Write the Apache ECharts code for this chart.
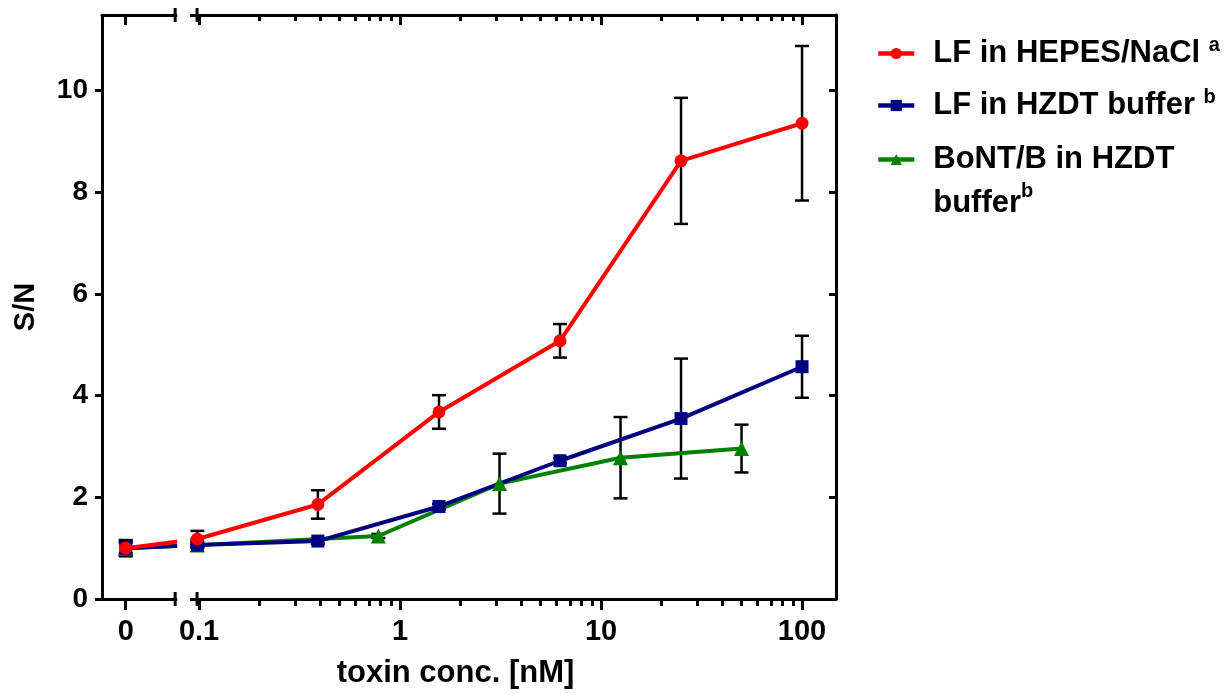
<!DOCTYPE html>
<html>
<head>
<meta charset="utf-8">
<script src="https://cdn.jsdelivr.net/npm/echarts@6/dist/echarts.min.js"></script>
<style>
  html, body { margin: 0; padding: 0; background: #fff; }
  #chart { width: 1232px; height: 694px; }
</style>
</head>
<body>
<div id="chart"></div>
<script>
// toxin concentrations [nM], 0 = blank
var concLF   = [0, 0.098, 0.39, 1.5625, 6.25, 25, 100];
var concBont = [0, 0.098, 0.78, 3.125, 12.5, 50];

// S/N means and error (+/-)
var hepesMean = [1.0, 1.18, 1.86, 3.68, 5.08, 8.62, 9.36];
var hepesErr  = [0.16, 0.16, 0.28, 0.33, 0.33, 1.24, 1.52];
var hzdtMean  = [1.0, 1.06, 1.14, 1.82, 2.72, 3.55, 4.57];
var hzdtErr   = [0.14, 0.05, 0.05, 0.05, 0.05, 1.18, 0.61];
var bontMean  = [1.0, 1.06, 1.24, 2.27, 2.78, 2.96];
var bontErr   = [0.1, 0.04, 0.04, 0.59, 0.8, 0.47];

var seriesNames = ['LF in HEPES/NaCl', 'LF in HZDT buffer', 'BoNT/B in HZDT buffer'];
var xTickLabels = ['0', '0.1', '1', '10', '100'];
var yTicks = [0, 2, 4, 6, 8, 10];

// x axis works in decades above 0.1 nM; the blank sits left of the break
var zeroPos = -0.365;
var breakL = -0.119, breakR = -0.01;
function xPos(c) { return c > 0 ? Math.log10(c) + 1 : zeroPos; }

var majorTicks = [zeroPos, 0, 1, 2, 3];
var minorTicks = [];
for (var n = 0; n < 3; n++) {
  for (var k = 2; k <= 9; k++) minorTicks.push(n + Math.log10(k));
}

function pts(conc, mean) {
  return conc.map(function (c, i) { return [xPos(c), mean[i]]; });
}
function bars(conc, mean, err) {
  return conc.map(function (c, i) { return [xPos(c), mean[i] - err[i], mean[i] + err[i]]; });
}

var FONT = '"Liberation Sans", Arial, sans-serif';
var black = '#000';

function errorSeries(data) {
  return {
    type: 'custom',
    z: 1,
    silent: true,
    data: data,
    encode: { x: 0, y: [1, 2] },
    renderItem: function (params, api) {
      var lo = api.coord([api.value(0), api.value(1)]);
      var hi = api.coord([api.value(0), api.value(2)]);
      var w = 7;
      var st = { stroke: black, lineWidth: 2.5 };
      return {
        type: 'group',
        children: [
          { type: 'line', shape: { x1: lo[0], y1: lo[1], x2: hi[0], y2: hi[1] }, style: st },
          { type: 'line', shape: { x1: lo[0] - w, y1: lo[1], x2: lo[0] + w, y2: lo[1] }, style: st },
          { type: 'line', shape: { x1: hi[0] - w, y1: hi[1], x2: hi[0] + w, y2: hi[1] }, style: st }
        ]
      };
    }
  };
}

function lineSeries(name, data, color, symbol, size) {
  return {
    name: name,
    type: 'line',
    z: 3,
    data: data,
    symbol: symbol,
    symbolSize: size,
    showAllSymbol: true,
    lineStyle: { color: color, width: 4 },
    itemStyle: { color: color }
  };
}

function legendStyle(lh) {
  return {
    color: black, fontFamily: FONT, fontWeight: 'bold', fontSize: 31,
    rich: {
      t: { fontFamily: FONT, fontWeight: 'bold', fontSize: 31, color: black, lineHeight: lh, padding: [0, 0, 0, 14] },
      sup: { fontFamily: FONT, fontWeight: 'bold', fontSize: 20, color: black, verticalAlign: 'top', lineHeight: lh, padding: [0, 0, 12, 0] }
    }
  };
}

var chart = echarts.init(document.getElementById('chart'));

var axisLineStyle = { show: true, onZero: false, lineStyle: { color: black, width: 3 } };
var noLine = { show: false, onZero: false };

var option = {
  animation: false,
  backgroundColor: '#fff',
  grid: { left: 102, right: 396, top: 15, bottom: 93 },
  legend: [
    {
      data: [seriesNames[0], seriesNames[1]],
      orient: 'vertical',
      left: 876,
      top: 35,
      padding: 0,
      itemWidth: 36,
      itemHeight: 14,
      itemGap: 18,
      selectedMode: false,
      lineStyle: { width: 4.5 },
      textStyle: legendStyle(37),
      formatter: function (name) {
        if (name === seriesNames[0]) return '{t|LF in HEPES/NaCl }{sup|a}';
        return '{t|LF in HZDT buffer }{sup|b}';
      }
    },
    {
      data: [seriesNames[2]],
      orient: 'vertical',
      left: 876,
      top: 100,
      padding: 0,
      itemWidth: 36,
      itemHeight: 14,
      selectedMode: false,
      lineStyle: { width: 4.5 },
      textStyle: legendStyle(44),
      formatter: function () { return '{t| }\n{t|BoNT/B in HZDT}\n{t|buffer}{sup|b}'; }
    }
  ],
  xAxis: [
    {
      type: 'value', position: 'bottom', min: -0.483, max: 3.169,
      name: 'toxin conc. [nM]', nameLocation: 'middle', nameGap: 59,
      nameTextStyle: { color: black, fontFamily: FONT, fontWeight: 'bold', fontSize: 31, padding: [0, 27, 0, 0] },
      axisLine: axisLineStyle,
      splitLine: { show: false },
      axisTick: { show: true, customValues: majorTicks, length: 11, lineStyle: { color: black, width: 3 } },
      axisLabel: {
        customValues: majorTicks, margin: 18,
        color: black, fontFamily: FONT, fontWeight: 'bold', fontSize: 29,
        formatter: function (v) {
          var i = majorTicks.findIndex(function (t) { return Math.abs(t - v) < 1e-6; });
          return i >= 0 ? xTickLabels[i] : '';
        }
      }
    },
    {
      type: 'value', position: 'bottom', min: -0.483, max: 3.169,
      axisLine: noLine, splitLine: { show: false }, axisLabel: { show: false },
      axisTick: { show: true, customValues: minorTicks, length: 7, lineStyle: { color: black, width: 3 } }
    },
    {
      type: 'value', position: 'top', min: -0.483, max: 3.169,
      axisLine: axisLineStyle, splitLine: { show: false }, axisLabel: { show: false },
      axisTick: { show: true, inside: true, customValues: majorTicks, length: 10, lineStyle: { color: black, width: 3 } }
    },
    {
      type: 'value', position: 'top', min: -0.483, max: 3.169,
      axisLine: noLine, splitLine: { show: false }, axisLabel: { show: false },
      axisTick: { show: true, inside: true, customValues: minorTicks, length: 6, lineStyle: { color: black, width: 3 } }
    }
  ],
  yAxis: [
    {
      type: 'value', position: 'left', min: 0, max: 11.49,
      name: 'S/N', nameLocation: 'middle', nameGap: 62, nameRotate: 90,
      nameTextStyle: { color: black, fontFamily: FONT, fontWeight: 'bold', fontSize: 29 },
      axisLine: axisLineStyle, splitLine: { show: false },
      axisTick: { show: true, customValues: yTicks, length: 7, lineStyle: { color: black, width: 3 } },
      axisLabel: { customValues: yTicks, margin: 14, color: black, fontFamily: FONT, fontWeight: 'bold', fontSize: 28 }
    },
    {
      type: 'value', position: 'right', min: 0, max: 11.49,
      axisLine: axisLineStyle, splitLine: { show: false }, axisLabel: { show: false },
      axisTick: { show: true, inside: true, customValues: yTicks, length: 7, lineStyle: { color: black, width: 3 } }
    }
  ],
  series: [
    errorSeries(bars(concLF, hepesMean, hepesErr)),
    errorSeries(bars(concLF, hzdtMean, hzdtErr)),
    errorSeries(bars(concBont, bontMean, bontErr)),
    lineSeries(seriesNames[2], pts(concBont, bontMean), '#008000', 'triangle', 15),
    lineSeries(seriesNames[1], pts(concLF, hzdtMean), '#000080', 'rect', 13),
    lineSeries(seriesNames[0], pts(concLF, hepesMean), '#ff0000', 'circle', 13)
  ]
};

chart.setOption(option);

// axis break: white gap over the frame and the lines, with end marks
var pL = chart.convertToPixel({ xAxisIndex: 0, yAxisIndex: 0 }, [breakL, 0]);
var pR = chart.convertToPixel({ xAxisIndex: 0, yAxisIndex: 0 }, [breakR, 11.49]);
var yBot = pL[1], yTop = pR[1];
var g = [
  { type: 'rect', zlevel: 1, shape: { x: pL[0] + 2, y: yTop - 3, width: pR[0] - pL[0] - 9, height: yBot - yTop + 6 }, style: { fill: '#fff' } }
];
[pL[0], pR[0]].forEach(function (x) {
  [yBot, yTop].forEach(function (y) {
    g.push({ type: 'line', zlevel: 1, shape: { x1: x, y1: y - 7, x2: x, y2: y + 7 }, style: { stroke: black, lineWidth: 3 } });
  });
});
chart.setOption({ graphic: g });
</script>
</body>
</html>
